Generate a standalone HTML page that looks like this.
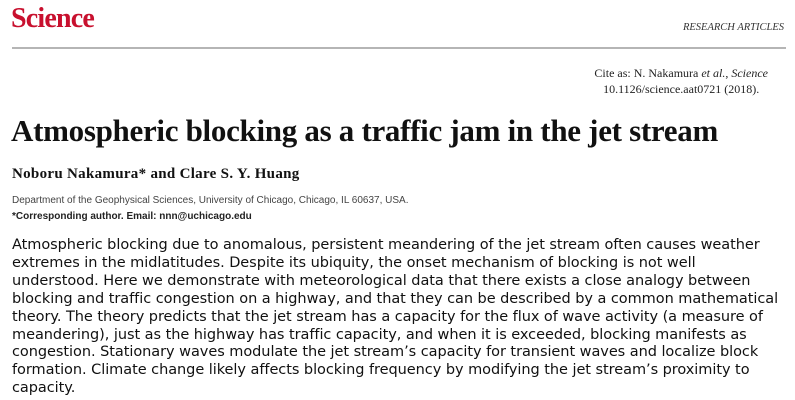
<!DOCTYPE html>
<html><head><meta charset="utf-8"><style>
body{margin:0;width:795px;height:400px;background:#fff;position:relative;overflow:hidden;color:#111}
div{position:absolute;white-space:nowrap}
.logo{left:11px;top:3px;font:bold 28px "Liberation Serif",serif;color:#c8102e;letter-spacing:-0.8px}
.sec{right:11px;top:22px;font:italic 10.5px "Liberation Serif",serif;color:#333}
.rule{left:12px;top:47px;width:774px;height:2px;background:#b5b5b5}
.cite{right:27px;top:65px;font:12px/16px "Liberation Serif",serif;text-align:center;color:#222}
.title{left:11px;top:113px;font:bold 31px "Liberation Serif",serif;letter-spacing:-0.3px}
.auth{left:12px;top:166px;font:bold 15px "Liberation Serif",serif;letter-spacing:0.3px}
.dept{left:12px;top:195px;font:10px "Liberation Sans Narrow","Liberation Sans",sans-serif;color:#444}
.corr{left:12px;top:211px;font:bold 10px "Liberation Sans Narrow","Liberation Sans",sans-serif;color:#222}
.abs{left:12px;top:237px;font:14.5px/17.9px "DejaVu Sans",sans-serif;color:#111;letter-spacing:-0.05px}
.abs span{display:block}
</style></head><body>
<div class="logo">Science</div>
<div class="sec">RESEARCH ARTICLES</div>
<div class="rule"></div>
<div class="cite">Cite as: N. Nakamura <i>et al.</i>, <i>Science</i><br>10.1126/science.aat0721 (2018).</div>
<div class="title">Atmospheric blocking as a traffic jam in the jet stream</div>
<div class="auth">Noboru Nakamura* and Clare S. Y. Huang</div>
<div class="dept">Department of the Geophysical Sciences, University of Chicago, Chicago, IL 60637, USA.</div>
<div class="corr">*Corresponding author. Email: nnn@uchicago.edu</div>
<div class="abs">
<span>Atmospheric blocking due to anomalous, persistent meandering of the jet stream often causes weather</span>
<span>extremes in the midlatitudes. Despite its ubiquity, the onset mechanism of blocking is not well</span>
<span>understood. Here we demonstrate with meteorological data that there exists a close analogy between</span>
<span>blocking and traffic congestion on a highway, and that they can be described by a common mathematical</span>
<span>theory. The theory predicts that the jet stream has a capacity for the flux of wave activity (a measure of</span>
<span>meandering), just as the highway has traffic capacity, and when it is exceeded, blocking manifests as</span>
<span>congestion. Stationary waves modulate the jet stream’s capacity for transient waves and localize block</span>
<span>formation. Climate change likely affects blocking frequency by modifying the jet stream’s proximity to</span>
<span>capacity.</span>
</div>
</body></html>
